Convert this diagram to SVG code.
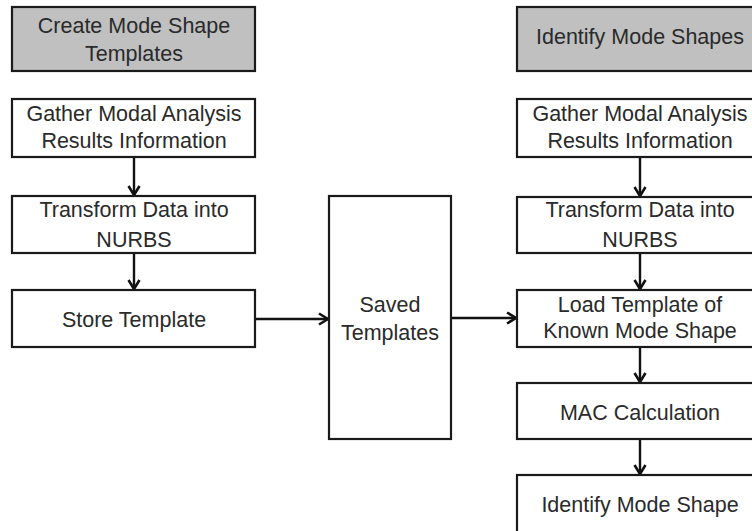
<svg xmlns="http://www.w3.org/2000/svg" width="752" height="531" viewBox="0 0 752 531">
<defs>
<style>
.box{fill:#fff;stroke:#1a1a1a;stroke-width:2.2}
.hdr{fill:#c0c0c0;stroke:#1a1a1a;stroke-width:2.2}
.t{font-family:"Liberation Sans",Arial,sans-serif;font-size:21.5px;fill:#2a2a2a;text-anchor:middle}
.c{stroke:#111;stroke-width:2.4;fill:none}
</style>
<marker id="ah" viewBox="0 0 14 14" refX="12" refY="7" markerWidth="14" markerHeight="14" markerUnits="userSpaceOnUse" orient="auto">
<polyline points="3,1.5 12,7 3,12.5" fill="none" stroke="#111" stroke-width="2.6"/>
</marker>
</defs>
<rect width="752" height="531" fill="#fff"/>
<g id="connectors">
<line class="c" x1="134" y1="157" x2="134" y2="195" marker-end="url(#ah)"/>
<line class="c" x1="134" y1="253" x2="134" y2="289" marker-end="url(#ah)"/>
<line class="c" x1="255" y1="319" x2="328" y2="319" marker-end="url(#ah)"/>
<line class="c" x1="451" y1="318" x2="516" y2="318" marker-end="url(#ah)"/>
<line class="c" x1="640" y1="157" x2="640" y2="196" marker-end="url(#ah)"/>
<line class="c" x1="640" y1="253" x2="640" y2="289" marker-end="url(#ah)"/>
<line class="c" x1="640" y1="347" x2="640" y2="382" marker-end="url(#ah)"/>
<line class="c" x1="640" y1="439" x2="640" y2="474" marker-end="url(#ah)"/>
</g>
<g id="create-header">
<rect class="hdr" x="12" y="7" width="243" height="64"/>
<text class="t" x="134" y="33">Create Mode Shape</text>
<text class="t" x="134" y="61">Templates</text>
</g>
<g id="gather-left">
<rect class="box" x="12" y="99" width="243" height="58"/>
<text class="t" x="134" y="121">Gather Modal Analysis</text>
<text class="t" x="134" y="148">Results Information</text>
</g>
<g id="transform-left">
<rect class="box" x="12" y="196" width="243" height="57"/>
<text class="t" x="134" y="217">Transform Data into</text>
<text class="t" x="134" y="247">NURBS</text>
</g>
<g id="store-template">
<rect class="box" x="12" y="290" width="243" height="57"/>
<text class="t" x="134" y="327">Store Template</text>
</g>
<g id="saved-templates">
<rect class="box" x="329" y="196" width="122" height="243"/>
<text class="t" x="390" y="312">Saved</text>
<text class="t" x="390" y="340">Templates</text>
</g>
<g id="identify-header">
<rect class="hdr" x="517" y="7" width="246" height="64"/>
<text class="t" x="640" y="44">Identify Mode Shapes</text>
</g>
<g id="gather-right">
<rect class="box" x="517" y="99" width="246" height="58"/>
<text class="t" x="640" y="121">Gather Modal Analysis</text>
<text class="t" x="640" y="148">Results Information</text>
</g>
<g id="transform-right">
<rect class="box" x="517" y="197" width="246" height="56"/>
<text class="t" x="640" y="217">Transform Data into</text>
<text class="t" x="640" y="247">NURBS</text>
</g>
<g id="load-template">
<rect class="box" x="517" y="290" width="246" height="57"/>
<text class="t" x="640" y="312">Load Template of</text>
<text class="t" x="640" y="338">Known Mode Shape</text>
</g>
<g id="mac-calculation">
<rect class="box" x="517" y="383" width="246" height="56"/>
<text class="t" x="640" y="420">MAC Calculation</text>
</g>
<g id="identify-mode-shape">
<rect class="box" x="517" y="475" width="246" height="70"/>
<text class="t" x="640" y="512">Identify Mode Shape</text>
</g>
</svg>
